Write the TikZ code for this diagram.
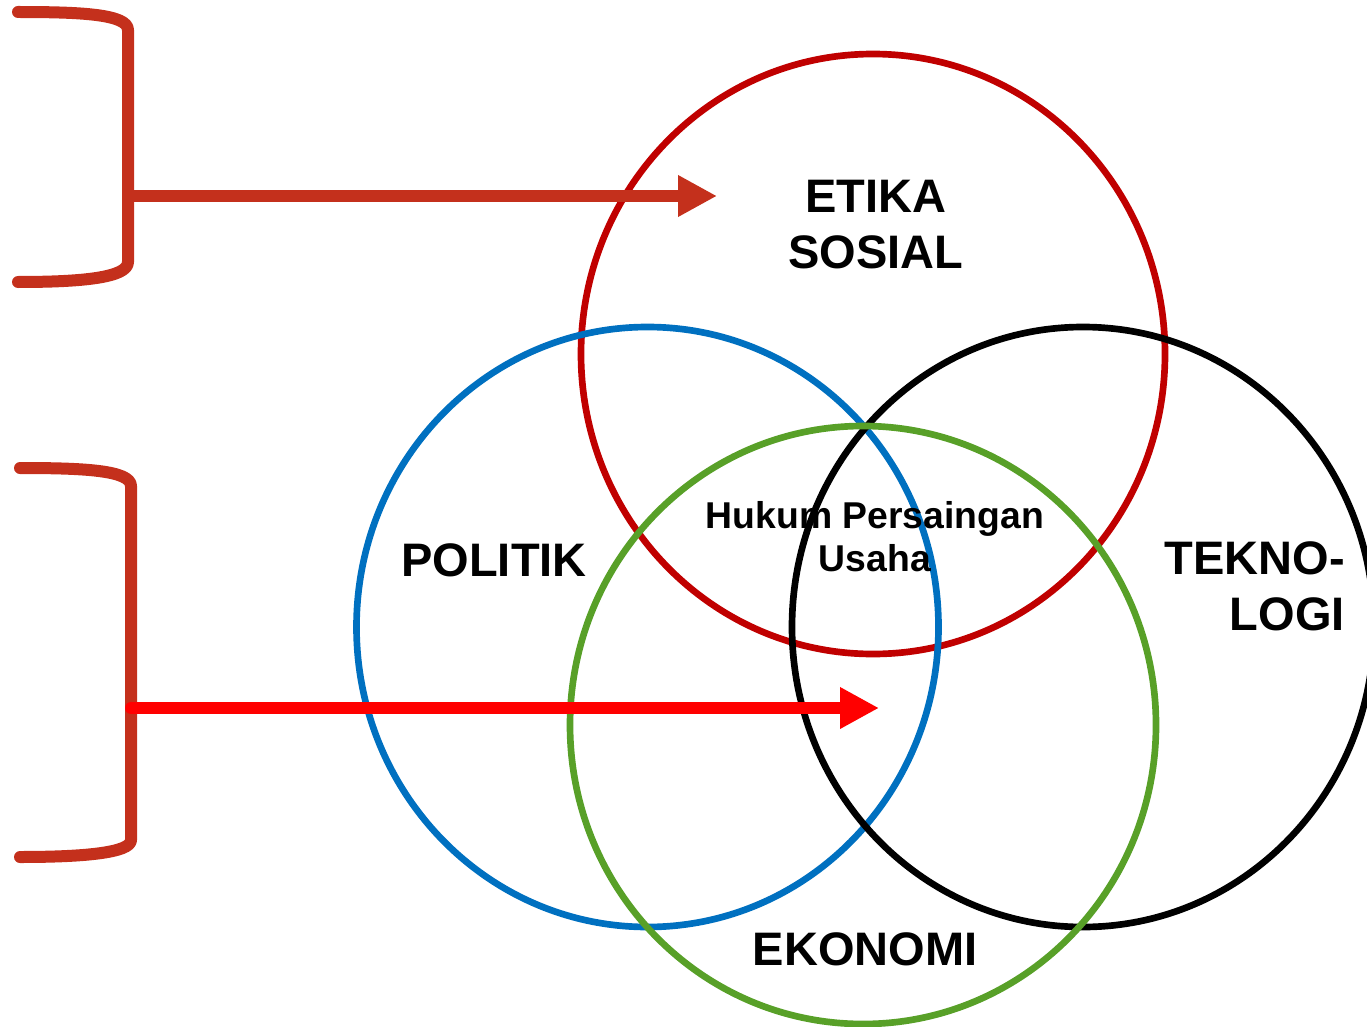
\documentclass[tikz,border=0pt]{standalone}
\usepackage{fontspec}
\setmainfont{Liberation Sans}
\usetikzlibrary{arrows.meta}
\definecolor{brk}{RGB}{196,48,28}
\definecolor{cred}{RGB}{192,0,0}
\definecolor{cblue}{RGB}{0,112,192}
\definecolor{cgreen}{RGB}{88,160,40}
\begin{document}
\begin{tikzpicture}[x=0.75pt,y=-0.75pt,
  ring/.style={line width=5pt},
  bracket/.style={line width=9pt,line cap=round,line join=round,brk},
  bigarrow/.style={line width=9pt,-{Triangle[length=29.25pt,width=29.25pt]}},
  bigtext/.style={font=\bfseries\fontsize{35.25}{42}\selectfont,inner sep=0pt,align=center},
  smalltext/.style={font=\bfseries\fontsize{28}{32.25}\selectfont,inner sep=0pt,align=center}]
\useasboundingbox (0,0) rectangle (1367,1027);
% circles
\draw[ring,cred]   (873,354) ellipse [x radius=292,y radius=300];
\draw[ring,cblue]  (647.5,627) ellipse [x radius=291,y radius=300];
\draw[ring,black]  (1083,627) ellipse [x radius=291,y radius=300];
\draw[ring,cgreen] (863,725) ellipse [x radius=293,y radius=299];
% brackets
\draw[bracket] (18,12) .. controls (80,12) and (128,14) .. (128,30) -- (128,262) .. controls (128,278) and (80,282) .. (18,282);
\draw[bracket] (20,468) .. controls (82,468) and (131,470) .. (131,486) -- (131,840) .. controls (131,853) and (82,857) .. (20,857);
\coordinate (b1) at (128,196);
\coordinate (t1) at (717,196);
\coordinate (b2) at (131,708);
\coordinate (t2) at (879,708);
\draw[bigarrow,brk] (b1) -- (t1);
\draw[bigarrow,red,line cap=round] (b2) -- (t2);
% texts
\node[bigtext,anchor=base] (etika) at (876,268) {ETIKA\\SOSIAL};
\node[bigtext,anchor=base] (politik) at (494,576) {POLITIK};
\node[bigtext,align=right,anchor=base east] (tekno) at (1345,630) {TEKNO-\\LOGI};
\node[bigtext,anchor=base] (ekonomi) at (865,965) {EKONOMI};
\node[smalltext,anchor=base] (hukum) at (875,571) {Hukum Persaingan\\Usaha};
\end{tikzpicture}
\end{document}
